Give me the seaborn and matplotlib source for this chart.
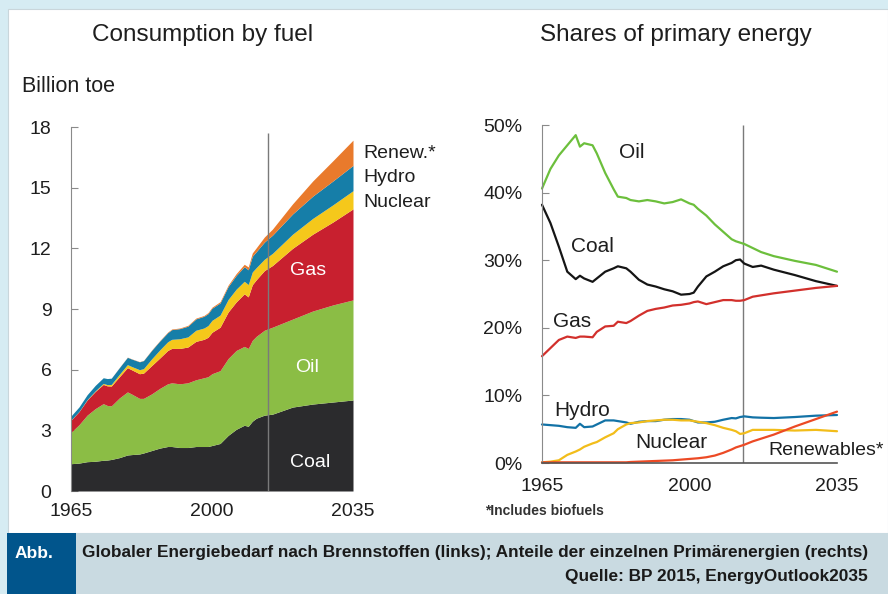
import numpy as np
import pandas as pd
import matplotlib
matplotlib.use('Agg')
import matplotlib.pyplot as plt
import seaborn as sns
from matplotlib.patches import Rectangle

# --- left chart: consumption by fuel (billion toe) ---
years = [1965, 1967, 1969, 1971, 1973, 1974, 1975, 1977, 1979, 1980, 1982, 1983,
         1985, 1987, 1989, 1990, 1992, 1994, 1996, 1998, 1999, 2000, 2002, 2004,
         2006, 2008, 2009, 2010, 2011, 2013, 2015, 2020, 2025, 2030, 2035]
coal = [1.35, 1.38, 1.45, 1.47, 1.52, 1.53, 1.56, 1.65, 1.78, 1.80, 1.83, 1.88,
        2.00, 2.12, 2.20, 2.20, 2.15, 2.15, 2.20, 2.20, 2.20, 2.25, 2.35, 2.75,
        3.05, 3.25, 3.20, 3.45, 3.60, 3.75, 3.80, 4.15, 4.30, 4.40, 4.50]
oil = [1.55, 1.90, 2.30, 2.60, 2.80, 2.70, 2.65, 2.95, 3.12, 3.00, 2.75, 2.70,
       2.80, 2.95, 3.10, 3.15, 3.15, 3.20, 3.30, 3.40, 3.45, 3.55, 3.60, 3.80,
       3.90, 3.90, 3.85, 4.00, 4.05, 4.20, 4.30, 4.35, 4.60, 4.80, 4.95]
gas = [0.60, 0.65, 0.75, 0.85, 0.95, 0.97, 0.98, 1.05, 1.20, 1.20, 1.22, 1.25,
       1.40, 1.50, 1.65, 1.70, 1.75, 1.77, 1.90, 1.90, 1.95, 2.05, 2.15, 2.30,
       2.40, 2.60, 2.55, 2.75, 2.80, 2.95, 3.05, 3.50, 3.80, 4.10, 4.50]
nuclear = [0.01, 0.01, 0.02, 0.03, 0.05, 0.06, 0.08, 0.12, 0.15, 0.16, 0.20, 0.22,
           0.33, 0.40, 0.43, 0.45, 0.48, 0.50, 0.55, 0.56, 0.58, 0.59, 0.60, 0.62,
           0.63, 0.62, 0.61, 0.63, 0.60, 0.56, 0.60, 0.70, 0.78, 0.85, 0.90]
hydro = [0.20, 0.22, 0.24, 0.27, 0.28, 0.30, 0.31, 0.33, 0.36, 0.37, 0.39, 0.40,
         0.42, 0.44, 0.45, 0.48, 0.50, 0.53, 0.56, 0.58, 0.59, 0.60, 0.60, 0.64,
         0.68, 0.72, 0.73, 0.78, 0.79, 0.85, 0.90, 1.00, 1.10, 1.18, 1.25]
renew = [0.00, 0.00, 0.00, 0.00, 0.00, 0.00, 0.00, 0.01, 0.01, 0.01, 0.01, 0.01,
         0.02, 0.02, 0.03, 0.03, 0.03, 0.04, 0.04, 0.04, 0.05, 0.05, 0.06, 0.07,
         0.09, 0.12, 0.14, 0.16, 0.19, 0.25, 0.30, 0.50, 0.75, 1.00, 1.25]

# --- right chart: shares of primary energy (%) ---
share_years = [1965, 1967, 1969, 1971, 1973, 1974, 1975, 1977, 1978, 1980, 1982, 1983,
               1985, 1986, 1988, 1990, 1992, 1994, 1996, 1998, 2000, 2001, 2002, 2004,
               2006, 2008, 2010, 2011, 2012, 2013, 2015, 2017, 2020, 2025, 2030, 2035]
oil_share = [40.6, 43.5, 45.5, 47.0, 48.5, 46.8, 47.3, 47.0, 45.8, 42.9, 40.5, 39.4,
             39.2, 38.9, 38.7, 38.9, 38.7, 38.4, 38.6, 39.0, 38.4, 38.2, 37.6, 36.6,
             35.3, 34.2, 33.1, 32.8, 32.6, 32.4, 31.8, 31.2, 30.6, 29.9, 29.3, 28.3]
coal_share = [38.2, 35.5, 32.0, 28.3, 27.2, 27.7, 27.3, 26.8, 27.3, 28.3, 28.8, 29.1,
              28.8, 28.3, 27.1, 26.4, 26.1, 25.7, 25.4, 24.9, 25.0, 25.2, 26.1, 27.6,
              28.3, 29.1, 29.6, 30.0, 30.1, 29.5, 29.0, 29.2, 28.6, 27.8, 26.9, 26.2]
gas_share = [15.8, 17.0, 18.2, 18.7, 18.5, 18.7, 18.7, 18.6, 19.4, 20.2, 20.3, 20.9,
             20.7, 21.0, 21.8, 22.5, 22.8, 23.0, 23.3, 23.4, 23.6, 23.8, 23.9, 23.5,
             23.8, 24.1, 24.1, 24.0, 24.0, 24.1, 24.6, 24.8, 25.1, 25.5, 25.9, 26.2]
hydro_share = [5.7, 5.6, 5.5, 5.3, 5.2, 5.8, 5.3, 5.4, 5.7, 6.3, 6.3, 6.2,
               6.0, 5.8, 6.1, 6.2, 6.2, 6.4, 6.5, 6.5, 6.4, 6.2, 6.0, 6.0,
               6.1, 6.4, 6.65, 6.6, 6.8, 6.9, 6.75, 6.7, 6.65, 6.8, 7.0, 7.1]
nuclear_share = [0.1, 0.2, 0.4, 1.2, 1.7, 2.0, 2.4, 2.9, 3.1, 3.8, 4.4, 5.0,
                 5.7, 5.9, 6.0, 6.2, 6.3, 6.4, 6.4, 6.3, 6.3, 6.2, 6.1, 5.9,
                 5.6, 5.2, 4.9, 4.7, 4.3, 4.4, 4.9, 4.9, 4.9, 4.8, 4.9, 4.7]
renew_share = [0.1, 0.1, 0.1, 0.1, 0.1, 0.1, 0.1, 0.1, 0.1, 0.1, 0.1, 0.1,
               0.1, 0.15, 0.2, 0.25, 0.3, 0.35, 0.4, 0.5, 0.6, 0.65, 0.7, 0.85,
               1.1, 1.5, 2.0, 2.3, 2.5, 2.7, 3.2, 3.6, 4.2, 5.4, 6.5, 7.6]

colors = {'Coal': '#2b2b2d', 'Oil': '#8bbd45', 'Gas': '#c8202f',
          'Nuclear': '#f5c81b', 'Hydro': '#167ea8', 'Renewables': '#e97a2c'}
line_colors = {'Oil': '#6cbf3c', 'Coal': '#151515', 'Gas': '#d2302c',
               'Hydro': '#1272a6', 'Nuclear': '#f2bd1a', 'Renewables': '#ec4a25'}

sns.set_theme(style='white')
plt.rcParams['font.family'] = ['Liberation Sans', 'DejaVu Sans']
txt = '#1e1e1e'

fig = plt.figure(figsize=(8.88, 5.94), dpi=100)
fig.patch.set_facecolor('#d6ecf3')
# white panel + caption band
fig.add_artist(Rectangle((8 / 888, 61 / 594), 880 / 888, 524 / 594, transform=fig.transFigure,
                         facecolor='white', edgecolor='#c9d6db', lw=0.8, zorder=0))
fig.add_artist(Rectangle((7 / 888, 0), 881 / 888, 61 / 594, transform=fig.transFigure,
                         facecolor='#c9dae1', edgecolor='none', zorder=0))
fig.add_artist(Rectangle((7 / 888, 0), 69 / 888, 61 / 594, transform=fig.transFigure,
                         facecolor='#01558c', edgecolor='none', zorder=0))

# ---------------- left ----------------
ax1 = fig.add_axes([71 / 888, 1 - 491 / 594, 282 / 888, 364 / 594])
ax1.patch.set_alpha(0)
ax1.stackplot(years, coal, oil, gas, nuclear, hydro, renew,
              colors=[colors[k] for k in ['Coal', 'Oil', 'Gas', 'Nuclear', 'Hydro', 'Renewables']],
              linewidth=0)
ax1.vlines(2014, 0, 17.7, color='#7a7a7a', lw=1.0)
ax1.set_xlim(1965, 2035)
ax1.set_ylim(0, 18)
ax1.set_xticks([1965, 2000, 2035])
ax1.set_yticks([0, 3, 6, 9, 12, 15, 18])
sns.despine(ax=ax1, top=True, right=True, bottom=True)
ax1.spines['left'].set_color('#8a8a8a')
ax1.spines['left'].set_linewidth(0.8)
ax1.tick_params(axis='y', direction='in', length=5, width=0.8, color='#8a8a8a',
                pad=14, labelsize=14, labelcolor=txt, left=True)
ax1.tick_params(axis='x', length=0, pad=9, labelsize=14, labelcolor=txt)
for lab, xx, yy in [('Gas', 2023.9, 10.9), ('Oil', 2023.5, 6.1), ('Coal', 2024.3, 1.4)]:
    ax1.text(xx, yy, lab, color='white', fontsize=14, ha='center', va='center')
for lab, yy in [('Renew.*', 16.7), ('Hydro', 15.5), ('Nuclear', 14.25)]:
    ax1.text(2037.6, yy, lab, color=txt, fontsize=14, ha='left', va='center', clip_on=False)

# ---------------- right ----------------
ax2 = fig.add_axes([542 / 888, 1 - 463 / 594, 295 / 888, 338 / 594])
ax2.patch.set_alpha(0)
share_df = pd.concat([
    pd.DataFrame({'year': share_years, 'share': vals, 'fuel': name})
    for name, vals in [('Oil', oil_share), ('Coal', coal_share), ('Gas', gas_share),
                       ('Hydro', hydro_share), ('Nuclear', nuclear_share),
                       ('Renewables', renew_share)]
])
ax2.vlines(2012.6, 0, 50, color='#7a7a7a', lw=1.0)
sns.lineplot(data=share_df, x='year', y='share', hue='fuel', palette=line_colors,
             linewidth=1.6, legend=False, ax=ax2, clip_on=False)
ax2.set_xlim(1965, 2035)
ax2.set_ylim(0, 50)
ax2.set_xticks([1965, 2000, 2035])
ax2.set_yticks([0, 10, 20, 30, 40, 50])
ax2.set_yticklabels([f'{v}%' for v in [0, 10, 20, 30, 40, 50]])
ax2.set_xlabel('')
ax2.set_ylabel('')
sns.despine(ax=ax2, top=True, right=True)
ax2.spines['left'].set_color('#8a8a8a')
ax2.spines['left'].set_linewidth(0.8)
ax2.spines['bottom'].set_color('#555555')
ax2.spines['bottom'].set_linewidth(1.2)
ax2.tick_params(axis='y', direction='in', length=5, width=0.8, color='#8a8a8a',
                pad=14, labelsize=14, labelcolor=txt, left=True)
ax2.tick_params(axis='x', length=0, pad=11, labelsize=14, labelcolor=txt)
for lab, xx, yy in [('Oil', 1986.4, 45.9), ('Coal', 1977.0, 32.0), ('Gas', 1972.2, 21.0),
                    ('Hydro', 1974.6, 7.8), ('Nuclear', 1995.7, 3.1)]:
    ax2.text(xx, yy, lab, color=txt, fontsize=15, ha='center', va='center')
ax2.text(2018.7, 1.8, 'Renewables*', color=txt, fontsize=14, ha='left', va='center',
         clip_on=False)

# ---------------- titles / notes ----------------
fig.text(203 / 888, 1 - 35 / 594, 'Consumption by fuel', fontsize=17.5, color=txt,
         ha='center', va='center')
fig.text(676 / 888, 1 - 35 / 594, 'Shares of primary energy', fontsize=17.5, color=txt,
         ha='center', va='center')
fig.text(22 / 888, 1 - 86 / 594, 'Billion toe', fontsize=15.5, color=txt, ha='left', va='center')
fig.text(485 / 888, 1 - 511 / 594, '*Includes biofuels', fontsize=10, fontweight='bold',
         color='#333333', ha='left', va='center')

cap_font = ['Liberation Sans Narrow', 'Liberation Sans', 'DejaVu Sans']
fig.text(15 / 888, 1 - 553 / 594, 'Abb.', family=cap_font, fontsize=12.5, fontweight='bold',
         color='white', ha='left', va='center')
fig.text(868 / 888, 1 - 552 / 594,
         'Globaler Energiebedarf nach Brennstoffen (links); Anteile der einzelnen Primärenergien (rechts)',
         family=cap_font, fontsize=12.4, fontweight='bold', color='#1a1a1a', ha='right', va='center')
fig.text(868 / 888, 1 - 577 / 594, 'Quelle: BP 2015, EnergyOutlook2035',
         family=cap_font, fontsize=12.4, fontweight='bold', color='#1a1a1a', ha='right', va='center')

fig.savefig('out.png', dpi=100, facecolor=fig.get_facecolor())
